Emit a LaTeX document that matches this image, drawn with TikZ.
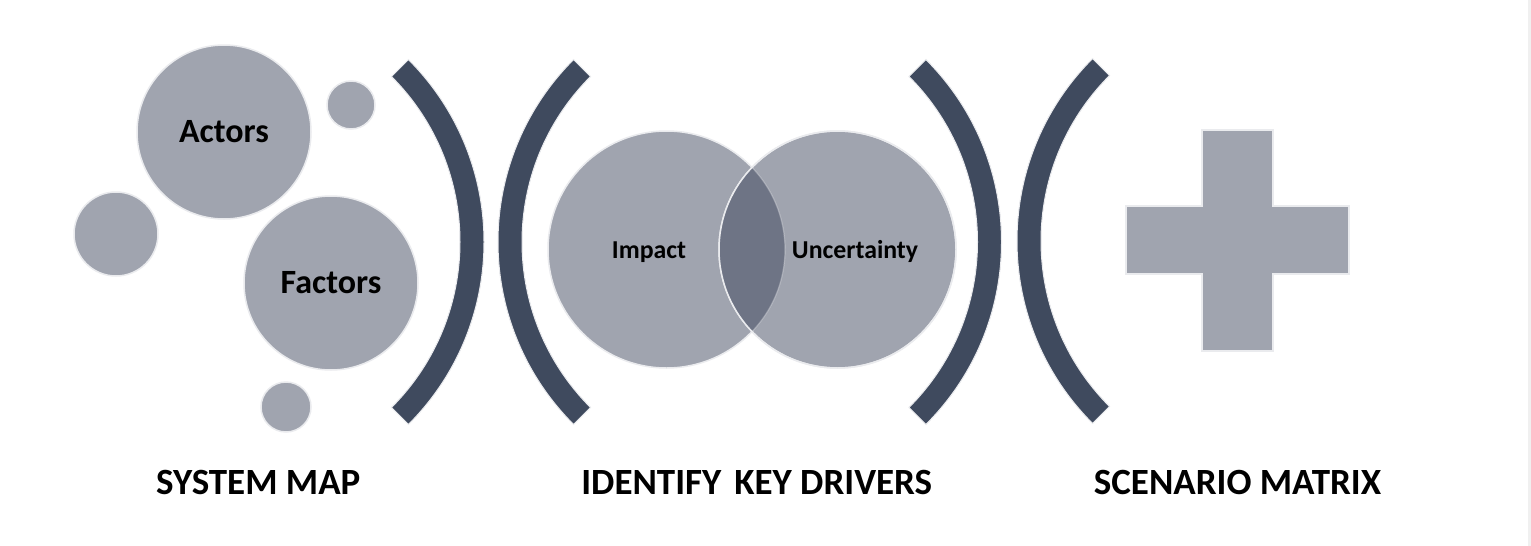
\documentclass[tikz,border=0pt]{standalone}
\usepackage{fontspec}
\setmainfont{Carlito}
\definecolor{circfill}{RGB}{160,164,175}
\definecolor{brack}{RGB}{63,74,94}
\definecolor{lensfill}{RGB}{110,116,133}
\definecolor{edge}{RGB}{234,235,238}
\definecolor{band}{RGB}{240,240,240}
\tikzset{
  bubble/.style={circle, fill=circfill, draw=edge, line width=1.5pt, inner sep=0pt, text=black, font=\bfseries\fontsize{34}{37}\selectfont},
  bracketshape/.style={fill=brack, draw=edge, line width=1pt},
  plusshape/.style={fill=circfill, draw=edge, line width=1.2pt},
  venntext/.style={anchor=base, text=black, font=\bfseries\fontsize{25.8}{28}\selectfont, inner sep=0pt},
  steplabel/.style={anchor=base, text=black, font=\bfseries\fontsize{37}{40}\selectfont, inner sep=0pt}
}
\begin{document}
\begin{tikzpicture}[x=1pt,y=1pt]
\useasboundingbox (0,0) rectangle (1531,-546);
\fill[white] (0,0) rectangle (1531,-546);
\fill[band] (1528,0) rectangle (1531,-546);

% --- system map bubbles
\node[bubble, minimum size=48pt] (s1) at (351,-105) {};
\node[bubble, minimum size=84pt] (s2) at (116,-234) {};
\node[bubble, minimum size=50pt] (s3) at (286,-407) {};
\node[bubble, minimum size=174pt] (actors) at (224,-132) {Actors};
\node[bubble, minimum size=174pt] (factors) at (331,-283) {Factors};

% --- brackets
\path[bracketshape] (226,-242) ++(45:258) arc[start angle=45, end angle=-45, radius=258]
  -- ++(135:24) arc[start angle=-45, end angle=45, radius=234] -- cycle;
\path[bracketshape] (756,-242) ++(135:258) arc[start angle=135, end angle=225, radius=258]
  -- ++(45:24) arc[start angle=225, end angle=135, radius=234] -- cycle;
\path[bracketshape] (743.5,-242) ++(45:258) arc[start angle=45, end angle=-45, radius=258]
  -- ++(135:24) arc[start angle=-45, end angle=45, radius=234] -- cycle;
\path[bracketshape] (1275,-241) ++(135:258) arc[start angle=135, end angle=225, radius=258]
  -- ++(45:24) arc[start angle=225, end angle=135, radius=234] -- cycle;

% --- venn diagram
\node[bubble, minimum size=237pt] (impact) at (666.5,-249.5) {};
\node[bubble, minimum size=237pt] (uncert) at (837.5,-249.5) {};
\begin{scope}
  \clip (impact.center) circle[radius=118.5];
  \fill[lensfill] (uncert.center) circle[radius=118.5];
\end{scope}
\begin{scope}
  \clip (uncert.center) circle[radius=118.5];
  \draw[edge, line width=1.2pt, opacity=0.35] (impact.center) circle[radius=118.5];
\end{scope}
\draw[edge, line width=1.5pt] (uncert.center) circle[radius=118.5];
\node[venntext] (impactlabel) at (649,-258) {Impact};
\node[venntext] (uncertlabel) at (855,-258) {Uncertainty};

% --- scenario matrix plus
\path[plusshape] (1202,-130) -- (1273,-130) -- (1273,-206) -- (1349,-206) -- (1349,-274)
  -- (1273,-274) -- (1273,-351) -- (1202,-351) -- (1202,-274) -- (1126,-274)
  -- (1126,-206) -- (1202,-206) -- cycle;

% --- step labels
\node[steplabel] (l1) at (258.3,-494) {SYSTEM MAP};
\node[steplabel] (l2) at (756.7,-494) {IDENTIFY\hspace{0.35em}KEY DRIVERS};
\node[steplabel] (l3) at (1237.5,-494) {SCENARIO MATRIX};
\end{tikzpicture}
\end{document}
